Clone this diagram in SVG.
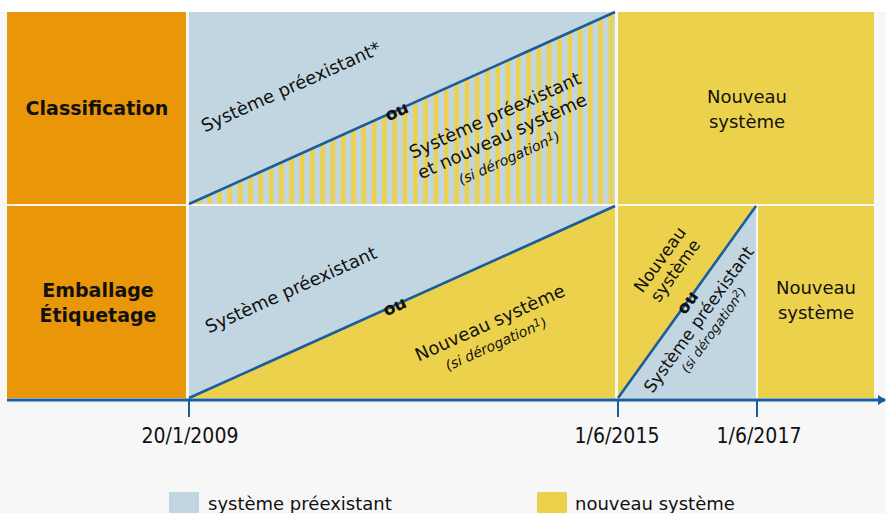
<svg xmlns="http://www.w3.org/2000/svg" width="886" height="513" viewBox="0 0 886 513">
<defs>
<pattern id="stripes" patternUnits="userSpaceOnUse" x="0" y="0" width="10.3" height="20">
<rect x="0" y="0" width="10.3" height="20" fill="#c2d6e2"/>
<rect x="1" y="0" width="4.6" height="20" fill="#ecd24c"/>
</pattern>
<marker id="arrow" viewBox="0 0 8 10" refX="7" refY="5" markerWidth="8" markerHeight="10" markerUnits="userSpaceOnUse" orient="auto">
<path d="M0,0 L8,5 L0,10 Z" fill="#1b5e9e"/>
</marker>
</defs>
<style>
.orange{fill:#e99608}
.blue{fill:#c2d6e2}
.yellow{fill:#ecd24c}
.diag{stroke:#1a5c9c;stroke-width:2.6;fill:none}
.tick{stroke:#1b5e9e;stroke-width:2;fill:none}
text{font-family:"DejaVu Sans","Liberation Sans",sans-serif;fill:#111}
.t18{font-size:18px}
.t17{font-size:17px}
.b19{font-size:19px;font-weight:bold}
.ou{font-size:17px;font-weight:bold}
.sm{font-size:14px;font-style:italic}
.sm13{font-size:13px;font-style:italic}
.mid{text-anchor:middle}
.date{font-family:"DejaVu Sans Condensed","DejaVu Sans",sans-serif;font-size:21px;text-anchor:middle;fill:#111}
</style>
<rect x="0" y="0" width="886" height="513" fill="#f7f7f7"/>
<rect x="0" y="0" width="886" height="12" fill="#ffffff"/>
<rect x="7" y="12" width="867" height="386" fill="#f9f7ee"/>

<g id="row-classification">
<rect class="orange" x="7" y="12" width="179" height="192"/>
<text class="b19 mid" x="97" y="115">Classification</text>
</g>
<g id="row-emballage">
<rect class="orange" x="7" y="206" width="179" height="192"/>
<text class="b19 mid" x="98" y="297">Emballage</text>
<text class="b19 mid" x="98" y="322">Étiquetage</text>
</g>

<g id="classification-transition">
<rect class="blue" x="189" y="12" width="426" height="192"/>
<polygon points="189,204 615,12 615,204" fill="url(#stripes)"/>
<g transform="translate(291,87) rotate(-24.2)"><text class="t18 mid" x="0" y="6">Système préexistant*</text></g>
<g transform="translate(502,136) rotate(-24.2)">
<text class="t18 mid" x="2" y="-15.5">Système préexistant</text>
<text class="t18 mid" x="0" y="6.5">et nouveau système</text>
<text class="sm mid" x="-2.5" y="28">(si dérogation<tspan font-size="11" dy="-4">1</tspan><tspan dy="4">)</tspan></text>
</g>
</g>

<g id="classification-new">
<rect class="yellow" x="618" y="12" width="256" height="192"/>
<text class="t18 mid" x="747" y="103">Nouveau</text>
<text class="t18 mid" x="747" y="128">système</text>
</g>

<g id="emballage-transition">
<rect class="blue" x="189" y="206" width="426" height="192"/>
<polygon class="yellow" points="189,398 615,206 615,398"/>
<g transform="translate(291,290) rotate(-24.2)"><text class="t18 mid" x="0" y="6">Système préexistant</text></g>
<g transform="translate(490,323) rotate(-24.2)">
<text class="t18 mid" x="0" y="6">Nouveau système</text>
<text class="sm mid" x="-3" y="26.5">(si dérogation<tspan font-size="11" dy="-4">1</tspan><tspan dy="4">)</tspan></text>
</g>
</g>

<g id="emballage-derogation">
<rect class="yellow" x="618" y="206" width="138" height="192"/>
<polygon class="blue" points="618,398 756,206 756,398"/>
<g transform="translate(667.5,265) rotate(-54.3)">
<text class="t17 mid" x="0" y="-3.5">Nouveau</text>
<text class="t17 mid" x="0" y="15.5">système</text>
</g>
<g transform="translate(706,324.5) rotate(-54.3)">
<text class="t17 mid" x="0" y="-3">Système préexistant</text>
<text class="sm13 mid" x="0" y="14">(si dérogation<tspan font-size="10" dy="-4">2</tspan><tspan dy="4">)</tspan></text>
</g>
</g>

<g id="emballage-new">
<rect class="yellow" x="758" y="206" width="116" height="192"/>
<text class="t18 mid" x="816" y="294">Nouveau</text>
<text class="t18 mid" x="816" y="319">système</text>
</g>

<g id="connectors">
<line class="diag" x1="189" y1="204" x2="615" y2="12"/>
<line class="diag" x1="189" y1="398" x2="615" y2="206"/>
<line class="diag" x1="618" y1="398" x2="756" y2="206"/>
<line x1="7" y1="400" x2="885" y2="400" stroke="#1b5e9e" stroke-width="3" marker-end="url(#arrow)"/>
<line class="tick" x1="189" y1="400" x2="189" y2="417"/>
<line class="tick" x1="618" y1="400" x2="618" y2="417"/>
<line class="tick" x1="757" y1="400" x2="757" y2="417"/>
</g>

<g id="or-labels">
<g transform="translate(397,112) rotate(-24.2)"><text class="ou mid" x="0" y="5">ou</text></g>
<g transform="translate(395,307) rotate(-24.2)"><text class="ou mid" x="0" y="5">ou</text></g>
<g transform="translate(688,303) rotate(-54.3)"><text class="ou mid" x="0" y="5">ou</text></g>
</g>

<g id="dates">
<text class="date" x="190" y="443">20/1/2009</text>
<text class="date" x="617" y="443">1/6/2015</text>
<text class="date" x="759" y="443">1/6/2017</text>
</g>

<g id="legend">
<rect class="blue" x="169" y="492" width="30" height="21"/>
<text class="t18" x="208" y="510">système préexistant</text>
<rect class="yellow" x="537" y="492" width="30" height="21"/>
<text class="t18" x="575" y="510">nouveau système</text>
</g>
</svg>
